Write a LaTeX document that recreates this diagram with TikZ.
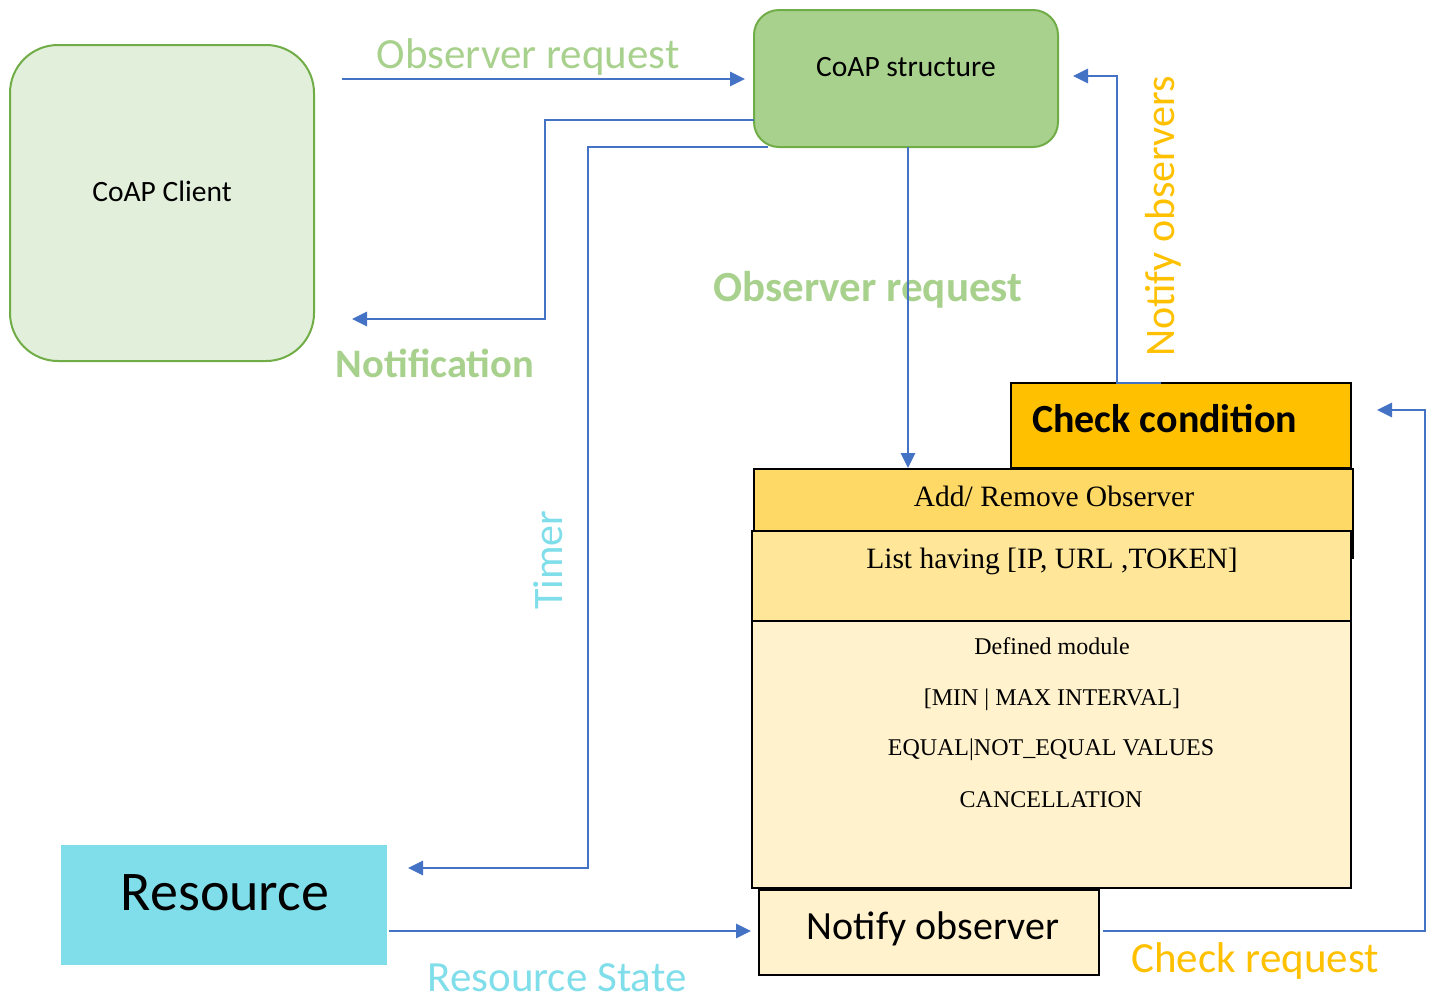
\documentclass[tikz,border=0pt]{standalone}
\usepackage{fontspec}
\setmainfont{Liberation Serif}
\newfontfamily\calfont{Carlito}
\usetikzlibrary{arrows.meta}

\definecolor{clientfill}{HTML}{E2EFDA}
\definecolor{grnline}{HTML}{70AD47}
\definecolor{grnfill}{HTML}{A9D18E}
\definecolor{amber}{HTML}{FFC000}
\definecolor{gold}{HTML}{FFD966}
\definecolor{paleGold}{HTML}{FFE699}
\definecolor{cream}{HTML}{FFF2CC}
\definecolor{cyanfill}{HTML}{80DEEA}
\definecolor{linkblue}{HTML}{4472C4}

\newcommand{\fsz}[1]{\fontsize{#1}{#1}\selectfont}

\begin{document}
\begin{tikzpicture}[x=1pt,y=-1pt,
  box/.style={anchor=north west, inner sep=0pt, outer sep=0pt},
  solidbox/.style={box, draw=black, line width=1.5pt},
  conn/.style={draw=linkblue, line width=2.8pt, -{Triangle[length=15pt,width=14pt]}},
  lbl/.style={anchor=base, inner sep=0pt},
  sans/.style={font=\calfont\fsz{#1}},
  serif/.style={font=\fsz{#1}},
]
\useasboundingbox (0,0) rectangle (1437,999);

% boxes
\node[box, draw=grnline, line width=2pt, fill=clientfill, rounded corners=48pt,
      minimum width=304pt, minimum height=316pt] (client) at (10,45) {};
\node[box, draw=grnline, line width=2pt, fill=grnfill, rounded corners=25pt,
      minimum width=304pt, minimum height=137pt] (cs) at (754,10) {};
\node[solidbox, fill=amber, minimum width=340pt, minimum height=85pt] (check) at (1011,383) {};
\node[solidbox, fill=gold, minimum width=599pt, minimum height=89pt] (addrm) at (754,469) {};
\node[solidbox, fill=paleGold, minimum width=599pt, minimum height=90pt] (list) at (752,531) {};
\node[solidbox, fill=cream, minimum width=599pt, minimum height=267pt] (defmod) at (752,621) {};
\node[solidbox, fill=cream, minimum width=340pt, minimum height=85pt] (notify) at (759,890) {};
\node[box, fill=cyanfill, minimum width=326pt, minimum height=120pt] (resource) at (61,845) {};

% texts inside the boxes
\node[lbl, sans=29.5] (clientT) at (162,201) {CoAP Client};
\node[lbl, sans=29.5] (csT) at (906,76) {CoAP structure};
\node[lbl, anchor=base west, sans=40] (checkT) at (1032,432) {\bfseries Check condition};
\node[lbl, serif=29.5] (addrmT) at (1054,506) {Add/ Remove Observer};
\node[lbl, serif=29.5] (listT) at (1052,568) {List having [IP, URL ,TOKEN]};
\node[lbl, serif=24] (dm1) at (1052,654) {Defined module};
\node[lbl, serif=24] (dm2) at (1052,705) {[MIN | MAX INTERVAL]};
\node[lbl, serif=24] (dm3) at (1051,755) {EQUAL|NOT\_EQUAL VALUES};
\node[lbl, serif=24] (dm4) at (1051,807) {CANCELLATION};
\node[lbl, sans=40] (notifyT) at (933,939) {Notify observer};
\node[lbl, sans=56] (resourceT) at (225,910) {Resource};

% connector labels
\node[lbl, sans=43, text=grnfill] (lObs1) at (528,68) {Observer request};
\node[lbl, sans=43, text=grnfill] (lObs2) at (868,301) {\bfseries Observer request};
\node[lbl, sans=40.5, text=grnfill] (lNotif) at (435,377) {\bfseries Notification};
\node[lbl, sans=43, text=cyanfill] (lState) at (557,991) {Resource State};
\node[lbl, sans=43, text=amber] (lCheck) at (1255,972) {Check request};
\node[lbl, anchor=base west, rotate=90, sans=42, text=cyanfill] (lTimer) at (562,610) {Timer};
\node[lbl, anchor=base west, rotate=90, sans=42, text=amber] (lNotifObs) at (1174,357) {Notify observers};

% routing levels
\coordinate (y79) at (0,79);
\coordinate (y120) at (0,120);
\coordinate (y319) at (0,319);
\coordinate (y147) at (0,147);
\coordinate (y868) at (0,868);
\coordinate (y76) at (0,76);
\coordinate (y410) at (0,410);
\coordinate (y931) at (0,931);
\coordinate (x545) at (545,0);
\coordinate (x588) at (588,0);
\coordinate (x908) at (908,0);
\coordinate (x1117) at (1117,0);
\coordinate (x1425) at (1425,0);

% connectors
\draw[conn, shorten <=28pt, shorten >=9pt] (client.east |- y79) -- (cs.west |- y79);
\draw[conn, shorten >=38pt] (cs.west |- y120) -- (x545 |- y120) -- (x545 |- y319) -- (client.east |- y319);
\draw[conn, shorten >=21pt] ([xshift=14pt]cs.south west) -- (x588 |- y147) -- (x588 |- y868) -- (resource.east |- y868);
\draw[conn, shorten >=1pt] (x908 |- cs.south) -- (x908 |- addrm.north);
\draw[conn, shorten >=15pt] ([xshift=-20pt]check.north) -- (check.north -| x1117) -- (x1117 |- y76) -- (cs.east |- y76);
\draw[conn, shorten <=4pt, shorten >=26pt] (notify.east |- y931) -- (x1425 |- y931) -- (x1425 |- y410) -- (check.east |- y410);
\draw[conn, shorten <=2pt, shorten >=8pt] (resource.east |- y931) -- (notify.west |- y931);
\end{tikzpicture}
\end{document}
